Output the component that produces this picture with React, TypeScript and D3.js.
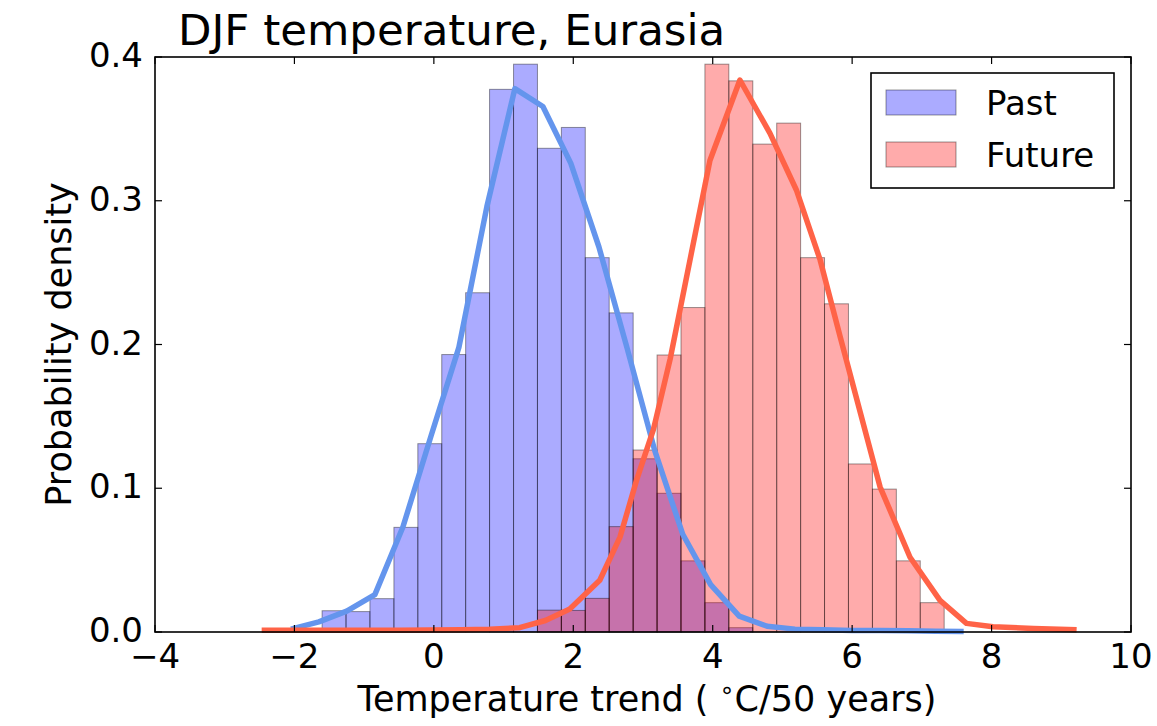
import * as d3 from 'd3';

// histogram bin edges (shared by both series)
const binEdges = [
  -1.603, -1.26, -0.917, -0.573, -0.23, 0.113, 0.456, 0.799, 1.143, 1.486,
  1.829, 2.172, 2.515, 2.859, 3.202, 3.545, 3.888, 4.231, 4.575, 4.918,
  5.261, 5.604, 5.947, 6.291, 6.634, 6.977, 7.32,
];

const pastDensity = [
  0.0148, 0.0142, 0.0232, 0.0728, 0.131, 0.193, 0.236, 0.3775, 0.395, 0.3365,
  0.351, 0.2604, 0.222, 0.1205, 0.0965, 0.0495, 0.0204, 0.003, 0, 0,
  0, 0, 0, 0, 0, 0,
];

const futureDensity = [
  0, 0, 0, 0, 0, 0, 0, 0, 0, 0.0152,
  0.015, 0.0234, 0.0733, 0.1266, 0.1927, 0.2257, 0.395, 0.3834, 0.3394, 0.354,
  0.2604, 0.2283, 0.1169, 0.0994, 0.0495, 0.0204,
];

// smoothed density curves
const pastCurve: [number, number][] = [
  [-2.05, 0.002], [-1.65, 0.007], [-1.25, 0.0145], [-0.846, 0.026], [-0.444, 0.073],
  [-0.043, 0.136], [0.359, 0.198], [0.761, 0.296], [1.162, 0.378], [1.564, 0.3656],
  [1.965, 0.326], [2.367, 0.268], [2.769, 0.198], [3.17, 0.126], [3.57, 0.068],
  [3.97, 0.033], [4.38, 0.011], [4.78, 0.004], [5.18, 0.002], [5.58, 0.0015],
  [6.0, 0.001], [6.4, 0.001], [6.8, 0.0008], [7.2, 0.0005], [7.6, 0.0003],
];

const futureCurve: [number, number][] = [
  [-2.47, 0.0012], [-1.5, 0.0012], [-0.5, 0.0012], [0.4, 0.0015], [0.8, 0.002],
  [1.23, 0.003], [1.6, 0.008], [1.95, 0.016], [2.38, 0.036], [2.67, 0.066],
  [2.91, 0.106], [3.15, 0.141], [3.39, 0.19], [3.96, 0.328], [4.39, 0.384],
  [4.82, 0.347], [5.2, 0.3075], [5.54, 0.259], [5.83, 0.205], [6.4, 0.101],
  [6.83, 0.052], [7.26, 0.022], [7.64, 0.006], [8.02, 0.0037], [8.6, 0.0025],
  [9.22, 0.0015],
];

const xTicks = [-4, -2, 0, 2, 4, 6, 8, 10];
const yTicks = [0, 0.1, 0.2, 0.3, 0.4];

const W = 1157;
const H = 726;
const plot = { left: 155, right: 1131, top: 57, bottom: 632 };
const font = 'DejaVu Sans';

export default function App() {
  const x = d3.scaleLinear().domain([-4, 10]).range([plot.left, plot.right]);
  const y = d3.scaleLinear().domain([0, 0.4]).range([plot.bottom, plot.top]);

  const line = d3.line<[number, number]>().x(d => x(d[0])).y(d => y(d[1]));

  const bars = (vals: number[], fill: string) =>
    vals.map((v, i) =>
      v > 0 ? (
        <rect
          key={i}
          x={x(binEdges[i])}
          y={y(v)}
          width={x(binEdges[i + 1]) - x(binEdges[i])}
          height={y(0) - y(v)}
          fill={fill}
          fillOpacity={0.33}
          stroke="#000"
          strokeOpacity={0.4}
          strokeWidth={1}
        />
      ) : null
    );

  const tick = 7;

  return (
    <svg width={W} height={H} style={{ position: 'absolute', left: 0, top: 0, background: '#fff' }}>
      <rect x={0} y={0} width={W} height={H} fill="#fff" />
      <g>{bars(pastDensity, 'blue')}</g>
      <g>{bars(futureDensity, 'red')}</g>
      <path d={line(pastCurve) ?? ''} fill="none" stroke="#6495ed" strokeWidth={5.5} strokeLinejoin="round" />
      <path d={line(futureCurve) ?? ''} fill="none" stroke="#ff6347" strokeWidth={5.5} strokeLinejoin="round" />

      {/* frame */}
      <rect
        x={plot.left}
        y={plot.top}
        width={plot.right - plot.left}
        height={plot.bottom - plot.top}
        fill="none"
        stroke="#000"
        strokeWidth={1.6}
      />

      {/* ticks, pointing inward on all sides */}
      {xTicks.map(t => (
        <g key={'x' + t}>
          <line x1={x(t)} x2={x(t)} y1={plot.bottom} y2={plot.bottom - tick} stroke="#000" strokeWidth={1.2} />
          <line x1={x(t)} x2={x(t)} y1={plot.top} y2={plot.top + tick} stroke="#000" strokeWidth={1.2} />
          <text x={x(t)} y={plot.bottom + 36} fontFamily={font} fontSize={34} textAnchor="middle">
            {t < 0 ? '\u2212' + Math.abs(t) : t}
          </text>
        </g>
      ))}
      {yTicks.map(t => (
        <g key={'y' + t}>
          <line x1={plot.left} x2={plot.left + tick} y1={y(t)} y2={y(t)} stroke="#000" strokeWidth={1.2} />
          <line x1={plot.right} x2={plot.right - tick} y1={y(t)} y2={y(t)} stroke="#000" strokeWidth={1.2} />
          <text x={143} y={y(t) + 10} fontFamily={font} fontSize={34} textAnchor="end">
            {t.toFixed(1)}
          </text>
        </g>
      ))}

      {/* title and axis labels */}
      <text x={178} y={45} fontFamily={font} fontSize={43.5}>
        DJF temperature, Eurasia
      </text>
      <text x={(plot.left + plot.right) / 2 + 4} y={711} fontFamily={font} fontSize={35} textAnchor="middle">
        {'Temperature trend ( '}
        <tspan fontSize={24} dy={-13}>{'\u2218'}</tspan>
        <tspan dy={13}>C/50 years)</tspan>
      </text>
      <text
        transform={`translate(71,${(plot.top + plot.bottom) / 2}) rotate(-90)`}
        fontFamily={font}
        fontSize={35}
        textAnchor="middle"
      >
        Probability density
      </text>

      {/* legend */}
      <rect x={871} y={73} width={243} height={115} fill="#fff" stroke="#000" strokeWidth={1.6} />
      <rect x={886} y={90} width={70} height={25} fill="blue" fillOpacity={0.33} stroke="#000" strokeOpacity={0.4} />
      <text x={986} y={115} fontFamily={font} fontSize={34}>Past</text>
      <rect x={886} y={142} width={70} height={25} fill="red" fillOpacity={0.33} stroke="#000" strokeOpacity={0.4} />
      <text x={986} y={167} fontFamily={font} fontSize={34}>Future</text>
    </svg>
  );
}
